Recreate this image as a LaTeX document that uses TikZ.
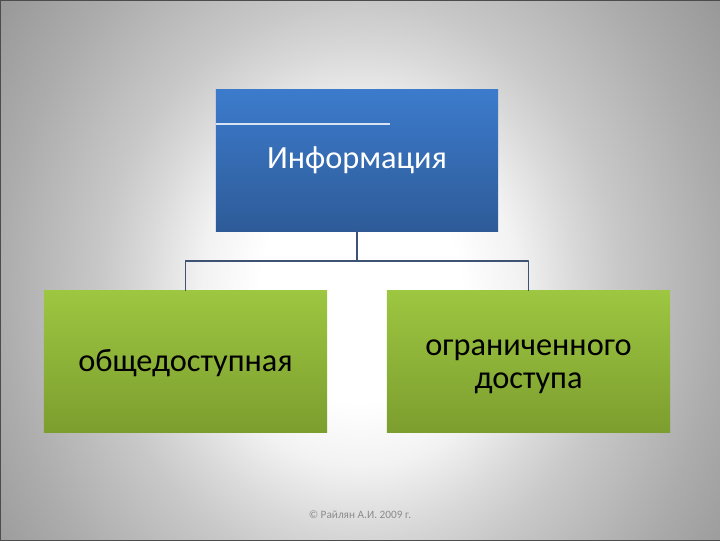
\documentclass[tikz,border=0pt]{standalone}
\usepackage{fontspec}
\setmainfont{Carlito}
\usetikzlibrary{positioning}

\definecolor{blueTop}{HTML}{3C7BCC}
\definecolor{blueBot}{HTML}{2E5B98}
\definecolor{greenTop}{HTML}{9DC641}
\definecolor{greenBot}{HTML}{7C9E2E}
\definecolor{connCol}{HTML}{3E5373}
\definecolor{footCol}{HTML}{8C8C8C}

\pgfdeclareradialshading{bgshade}{\pgfpoint{0bp}{0bp}}{%
  color(0bp)=(white); color(7bp)=(white); color(11bp)=(gray!10);
  color(15bp)=(gray!30); color(18bp)=(gray!43); color(25bp)=(gray!65);
  color(31bp)=(gray!81); color(36bp)=(gray!83)}

% text a little below the middle of its box
\newcommand\lowered[2][8.5pt]{\raisebox{-#1}[0pt][0pt]{\begin{tabular}{@{}c@{}}#2\end{tabular}}}

\tikzset{
  box/.style={minimum width=7.05cm,minimum height=3.525cm,inner sep=0pt,
    font=\fontsize{23}{23.5}\selectfont},
  topbox/.style={box,top color=blueTop,bottom color=blueBot,text=white},
  leafbox/.style={box,top color=greenTop,bottom color=greenBot,text=black,
    minimum width=7.075cm},
  conn/.style={draw=connCol,line width=1.2pt}
}

\begin{document}
\begin{tikzpicture}[x=0.025cm,y=-0.025cm,line join=round]
	\useasboundingbox (0,0) rectangle (720,540);
	% background
	\begin{scope}
		\clip (0,0) rectangle (720,540);
		\shade[shading=bgshade] (0,-110) rectangle (720,690);
	\end{scope}
	\draw[gray!60!black,line width=0.6pt] (0,0) rectangle (720,540);
	% boxes
	\node[topbox] (info) at (357,160.5) {\lowered[7.2pt]{Информация}};
	\draw[white!80!blueTop,line width=0.8pt] (info.west |- 0,124) -- (390,124);
	\node[leafbox] (pub) at (185.5,361.5) {\lowered{общедоступная}};
	\node[leafbox] (lim) at (528.5,361.5) {\lowered[9.3pt]{ограниченного\\доступа}};
	% connectors
	\draw[conn] (info.south) -- ++(0,30) coordinate (fork) -| (pub.north);
	\draw[conn] (fork) -| (lim.north);
	% footer
	\node[text=footCol,font=\fontsize{8}{10}\selectfont] (foot) at (360,515) {© Райлян А.И. 2009 г.};
\end{tikzpicture}
\end{document}
